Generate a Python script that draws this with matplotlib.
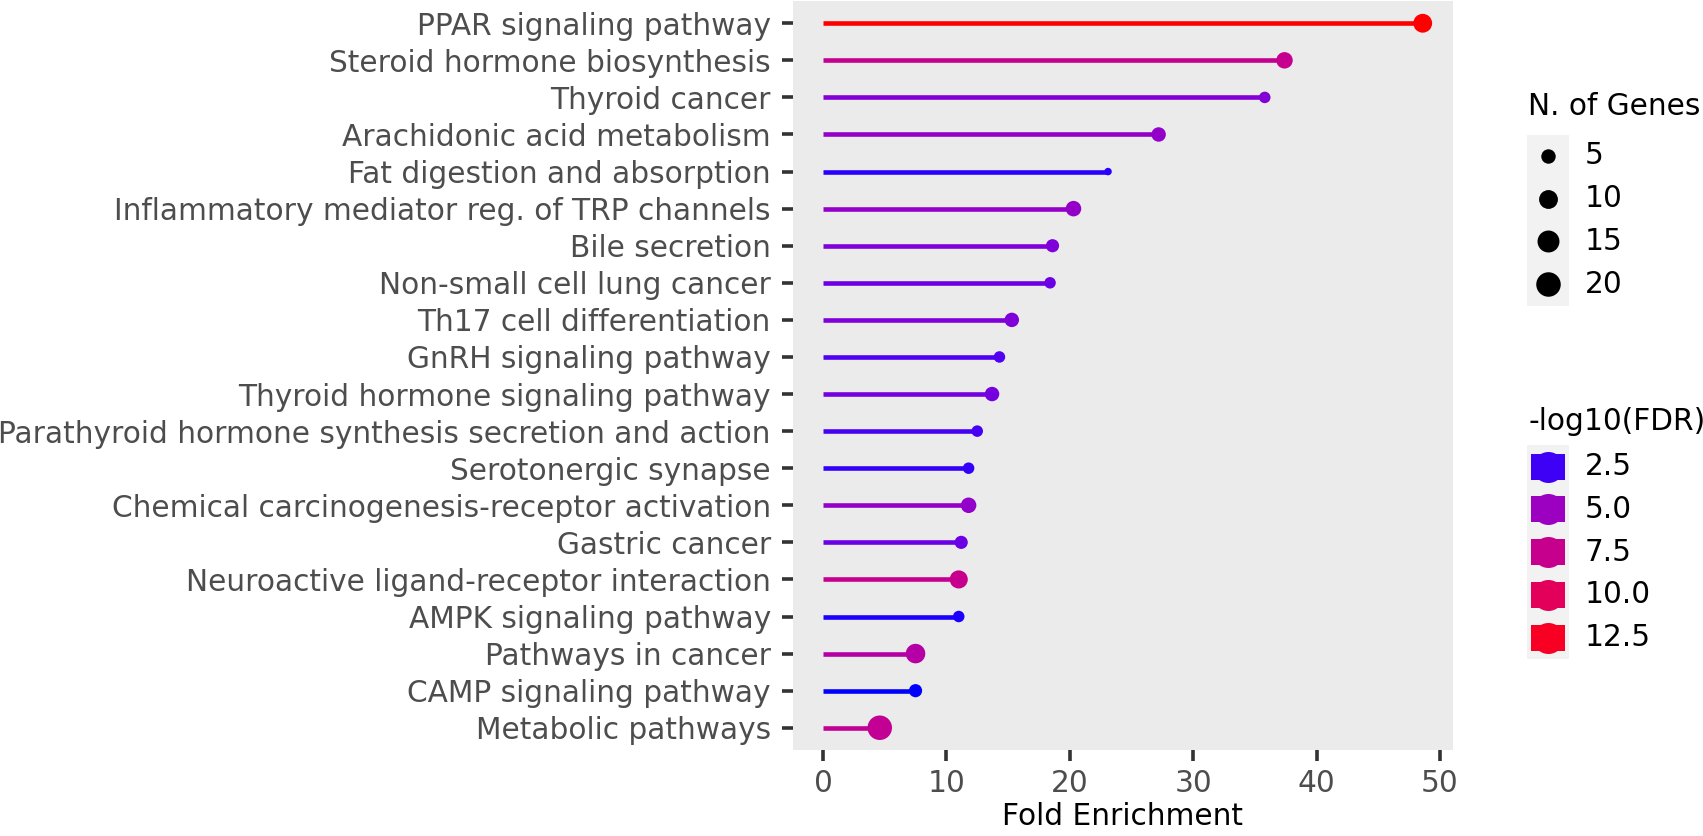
import numpy as np
import matplotlib
matplotlib.use('Agg')
import matplotlib.pyplot as plt
from matplotlib.colors import ListedColormap, Normalize
from matplotlib.patches import Rectangle

# Dados
pathways = [
    "PPAR signaling pathway",
    "Steroid hormone biosynthesis",
    "Thyroid cancer",
    "Arachidonic acid metabolism",
    "Fat digestion and absorption",
    "Inflammatory mediator reg. of TRP channels",
    "Bile secretion",
    "Non-small cell lung cancer",
    "Th17 cell differentiation",
    "GnRH signaling pathway",
    "Thyroid hormone signaling pathway",
    "Parathyroid hormone synthesis secretion and action",
    "Serotonergic synapse",
    "Chemical carcinogenesis-receptor activation",
    "Gastric cancer",
    "Neuroactive ligand-receptor interaction",
    "AMPK signaling pathway",
    "Pathways in cancer",
    "CAMP signaling pathway",
    "Metabolic pathways",
]
fold_enrichment = [48.6, 37.4, 35.8, 27.2, 23.1, 20.3, 18.6, 18.4, 15.3, 14.3,
                   13.7, 12.5, 11.8, 11.8, 11.2, 11.0, 11.0, 7.5, 7.5, 4.6]
n_genes = [10, 7, 3, 5, 2, 6, 4, 3, 5, 3,
           5, 3, 3, 6, 4, 9, 3, 11, 4, 20]
neg_log10_fdr = [13.4, 7.4, 4.0, 4.6, 2.3, 4.7, 3.9, 3.3, 3.9, 2.8,
                 3.6, 2.6, 2.4, 4.6, 3.3, 7.5, 2.2, 6.3, 2.1, 7.2]

size_breaks = [5, 10, 15, 20]
fdr_breaks = [2.5, 5.0, 7.5, 10.0, 12.5]

DPI = 100
W, H = 1703, 836
FS = 21.3


# gradiente azul -> vermelho interpolado em Lab (como o ggplot)
def srgb_to_lab(rgb):
    rgb = np.asarray(rgb, dtype=float)
    lin = np.where(rgb <= 0.04045, rgb / 12.92, ((rgb + 0.055) / 1.055) ** 2.4)
    m = np.array([[0.4124, 0.3576, 0.1805],
                  [0.2126, 0.7152, 0.0722],
                  [0.0193, 0.1192, 0.9505]])
    xyz = m @ lin / np.array([0.95047, 1.0, 1.08883])
    f = np.where(xyz > 0.008856, np.cbrt(xyz), 7.787 * xyz + 16 / 116)
    return np.array([116 * f[1] - 16, 500 * (f[0] - f[1]), 200 * (f[1] - f[2])])


def lab_to_srgb(lab):
    L, a, b = lab
    fy = (L + 16) / 116
    fx = fy + a / 500
    fz = fy - b / 200
    f = np.array([fx, fy, fz])
    xyz = np.where(f ** 3 > 0.008856, f ** 3, (f - 16 / 116) / 7.787)
    xyz = xyz * np.array([0.95047, 1.0, 1.08883])
    m = np.array([[3.2406, -1.5372, -0.4986],
                  [-0.9689, 1.8758, 0.0415],
                  [0.0557, -0.2040, 1.0570]])
    lin = np.clip(m @ xyz, 0, 1)
    rgb = np.where(lin <= 0.0031308, 12.92 * lin, 1.055 * lin ** (1 / 2.4) - 0.055)
    return np.clip(rgb, 0, 1)


lab_lo = srgb_to_lab([0, 0, 1])
lab_hi = srgb_to_lab([1, 0, 0])
cores = [lab_to_srgb(lab_lo + t * (lab_hi - lab_lo)) for t in np.linspace(0, 1, 256)]
cmap = ListedColormap(cores)
norm = Normalize(vmin=min(neg_log10_fdr), vmax=max(neg_log10_fdr))

nmin, nmax = min(n_genes), max(n_genes)


def tamanho(n):
    # area ~ n, diametro em px -> s em pt^2
    n = np.asarray(n, dtype=float)
    d = 3.4 * (1 + 5 * np.sqrt((n - nmin) / (nmax - nmin))) + 4.1
    return (d * 72 / DPI) ** 2


fig = plt.figure(figsize=(W / DPI, H / DPI), dpi=DPI)
ax = fig.add_axes([793 / W, 1 - 750 / H, (1452.7 - 793) / W, 749 / H])

y = np.arange(len(pathways))[::-1]
cols = cmap(norm(neg_log10_fdr))
ax.hlines(y, 0, fold_enrichment, colors=cols, linewidth=3.3, zorder=2)
ax.scatter(fold_enrichment, y, s=tamanho(n_genes), c=cols, linewidths=0, zorder=3)

xmax = max(fold_enrichment)
ax.set_xlim(-0.05 * xmax, xmax * 1.05)
ax.set_ylim(-0.6, len(pathways) - 1 + 0.6)
ax.set_yticks(y)
ax.set_yticklabels(pathways)
ax.set_xticks([0, 10, 20, 30, 40, 50])
ax.set_facecolor('#EBEBEB')
for s in ax.spines.values():
    s.set_visible(False)
ax.tick_params(length=8, width=2.6, color='#333333', labelcolor='#4D4D4D', labelsize=FS)
ax.tick_params(axis='y', pad=8)
ax.tick_params(axis='x', pad=6)
ax.set_xlabel('Fold Enrichment', fontsize=FS, color='black', labelpad=2.5)

# legendas desenhadas em coordenadas de pixel
lax = fig.add_axes([0, 0, 1, 1])
lax.set_xlim(0, W)
lax.set_ylim(H, 0)
lax.axis('off')

key_x, key_w, passo = 1526.7, 42.6, 42.7
lax.text(1528, 106.8, 'N. of Genes', fontsize=FS, va='center', ha='left')
lax.add_patch(Rectangle((key_x, 135), key_w, passo * len(size_breaks), color='#F2F2F2', lw=0))
for j, b in enumerate(size_breaks):
    yy = 156 + passo * j
    lax.scatter([key_x + key_w / 2], [yy], s=tamanho(b), c='black', linewidths=0)
    lax.text(1585, yy, str(b), fontsize=FS, va='center', ha='left')

lax.text(1528, 421.5, '-log10(FDR)', fontsize=FS, va='center', ha='left')
lax.add_patch(Rectangle((key_x, 445.3), key_w, passo * len(fdr_breaks), color='#F2F2F2', lw=0))
for j, b in enumerate(fdr_breaks):
    yy = 466.7 + passo * j
    c = cmap(norm(b))
    lax.add_patch(Rectangle((1530.7, yy - 13), 34.3, 26, color=c, lw=0))
    lax.scatter([key_x + key_w / 2], [yy], s=(31 * 72 / DPI) ** 2, color=c, linewidths=0)
    lax.text(1585, yy, f'{b:.1f}', fontsize=FS, va='center', ha='left')

fig.savefig('out.png', dpi=DPI)
